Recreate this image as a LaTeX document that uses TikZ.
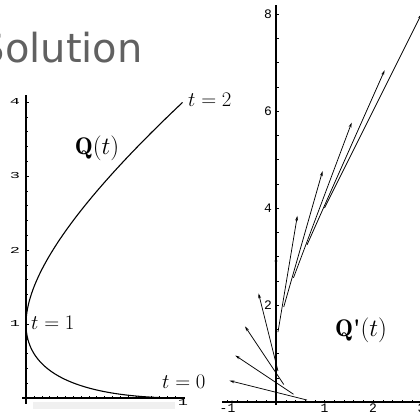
\documentclass[tikz,border=0pt]{standalone}
\usepackage{amsmath}
\usepackage{fontspec}
\newfontfamily\titlefont{DejaVu Sans}
\newfontfamily\tickfont{Liberation Mono}
\usetikzlibrary{arrows.meta}

\begin{document}
\begin{tikzpicture}[x=1pt, y=1pt,
  axis/.style={line width=1.2pt},
  tickmark/.style={line width=0.4pt},
  ticklab/.style={font=\tickfont\fontsize{13}{13}\selectfont, inner sep=0pt},
  squash/.style={ticklab, xscale=1.3, yscale=0.7},
  curvelab/.style={font=\fontsize{20}{22}\selectfont, inner sep=0pt, anchor=west},
  vec/.style={line width=0.75pt, -{Stealth[length=5pt, width=2.8pt]}}]
  \useasboundingbox (0,0) rectangle (420,415);
  \node[anchor=base west, inner sep=0pt, text=black!62,
    font=\titlefont\fontsize{40}{40}\selectfont] (title) at (-20.5,352) {Solution};

  % the curve Q(t)
  \begin{scope}[shift={(26,17)}, x=157pt, y=74pt]
    \fill[black!6] (0.045,-0.055) rectangle (0.95,-0.15);
    \draw[axis] (-0.025,0) -- (1.01,0);
    \draw[axis] (0,-0.08) -- (0,4.1);
    \foreach \y in {0.2,0.4,...,4.0} \draw[tickmark] (0,\y) -- ++(2pt,0);
    \foreach \y in {1,...,4} {
      \draw[tickmark] (0,\y) -- ++(3pt,0);
      \node[squash] (ly\y) at ([xshift=-11pt]0,\y) {\y};
    }
    \foreach \x in {0.05,0.1,...,1.0} \draw[tickmark] (\x,0) -- ++(0,2pt);
    \node[squash] (lx1) at ([yshift=-5pt]1,0) {1};
    \draw[line width=1.1pt, domain=0:2, samples=100, smooth] plot ({(\x-1)^2},{\x^2});
  \end{scope}
  \node[curvelab] (t2) at (188,315) {$t=2$};
  \node[curvelab] (t1) at (31,92) {$t=1$};
  \node[curvelab] (t0) at (162,33) {$t=0$};
  \node[font=\fontsize{24}{26}\selectfont, inner sep=0pt] (q) at (97,267) {$\mathbf{Q}(t)$};

  % the tangent vectors Q'(t)
  \begin{scope}[shift={(276,13)}, x=48.5pt, y=48.5pt]
    \draw[axis] (-1.11,0) -- (3.2,0);
    \draw[axis] (0,-0.06) -- (0,8.19);
    \foreach \y in {0.5,1,...,8} \draw[tickmark] (0,\y) -- ++(2.5pt,0);
    \foreach \x in {-1,-0.8,...,3} \draw[tickmark] (\x,0) -- ++(0,2pt);
    \foreach \y in {2,4,6,8} \node[ticklab] (ry\y) at ([xshift=-8pt]0,\y) {\y};
    \foreach \x/\lab in {-1/-1,1/1,2/2,3/3} \node[ticklab] (rx\x) at ([yshift=-6.5pt]\x,0) {\lab};
    \foreach \i [evaluate=\i as \t using \i/5] in {0,...,10}
      \draw[vec] ({(\t-1)^2},{\t^2}) -- ++({2*(\t-1)},{2*\t});
  \end{scope}
  \node[font=\fontsize{24}{26}\selectfont, inner sep=0pt] (dq) at (361,85)
    {$\mathbf{Q}$\textbf{\textquotesingle}$(t)$};
\end{tikzpicture}
\end{document}
